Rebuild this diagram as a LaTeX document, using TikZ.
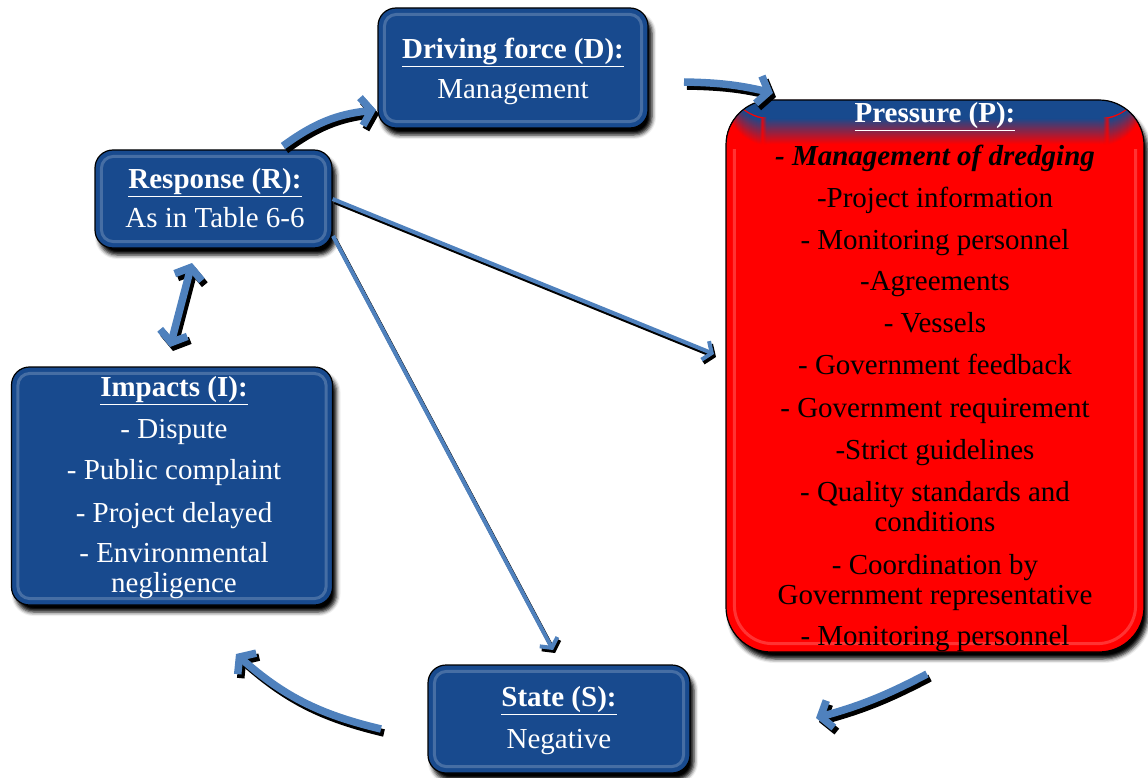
\documentclass[tikz,border=0pt]{standalone}
\usepackage{fontspec}
\setmainfont{Liberation Serif}
\usetikzlibrary{arrows.meta,shadows.blur}
\definecolor{boxblue}{RGB}{24,74,142}
\definecolor{arrblue}{RGB}{79,129,189}
\definecolor{pred}{RGB}{255,0,0}
\tikzset{
  boxbase/.style={draw=black, line width=1.2pt, inner sep=0pt,
    blur shadow={shadow xshift=4pt, shadow yshift=-7pt, shadow blur radius=4pt, shadow opacity=100}},
  bluebox/.style={boxbase, rounded corners=18pt, fill=boxblue},
  redbox/.style={boxbase, rounded corners=45pt, fill=pred,
    path picture={
      \fill[boxblue] (path picture bounding box.north west) rectangle ([yshift=-18pt]path picture bounding box.north east);
      \foreach \k in {0,...,26}{
        \pgfmathtruncatemacro\p{\k*100/26}
        \fill[pred!\p!boxblue] ([yshift=-18pt-\k*1pt]path picture bounding box.north west)
          rectangle ([yshift=-19.6pt-\k*1pt]path picture bounding box.north east);}
    }},
  bevel/.style={draw=white, opacity=0.2, line width=3pt, rounded corners=12pt},
  txt/.style={align=center, inner sep=0pt, font=\fontsize{29}{30}\selectfont},
  wtxt/.style={txt, text=white},
  arr/.style={draw=arrblue, line width=7.5pt, -{Straight Barb[length=10pt,width=28pt]}},
  arrsh/.style={arr, draw=black, transform canvas={shift={(3,4)}}},
  thin/.style={draw=arrblue, line width=4pt, -{Straight Barb[length=7pt,width=20pt]}},
  thinsh/.style={thin, draw=black, transform canvas={shift={(2,3)}}},
  dbl/.style={draw=arrblue, line width=7.5pt, {Straight Barb[length=10pt,width=28pt]}-{Straight Barb[length=10pt,width=28pt]}},
  dblsh/.style={dbl, draw=black, transform canvas={shift={(3,4)}}}
}
\begin{document}
\begin{tikzpicture}[x=1pt,y=-1pt]
\useasboundingbox (0,0) rectangle (1148,778);
% boxes
\node[bluebox, minimum width=270pt, minimum height=120pt] (D) at (513,68) {};
\node[bluebox, minimum width=237pt, minimum height=98pt] (R) at (213.5,199) {};
\node[bluebox, minimum width=321pt, minimum height=238pt] (I) at (172,486) {};
\node[redbox, minimum width=418pt, minimum height=552pt] (P) at (935,376) {};
\node[bluebox, minimum width=262pt, minimum height=108pt] (S) at (559,719) {};
% bevels
\draw[bevel] ([shift={(7,7)}]D.north west) rectangle ([shift={(-7,-7)}]D.south east);
\draw[bevel] ([shift={(7,7)}]R.north west) rectangle ([shift={(-7,-7)}]R.south east);
\draw[bevel] ([shift={(7,7)}]I.north west) rectangle ([shift={(-7,-7)}]I.south east);
\draw[bevel] ([shift={(7,7)}]S.north west) rectangle ([shift={(-7,-7)}]S.south east);
\begin{scope}
  \clip ([shift={(0,50)}]P.north west) rectangle (P.south east);
  \draw[bevel, rounded corners=38pt] ([shift={(9,9)}]P.north west) rectangle ([shift={(-9,-9)}]P.south east);
\end{scope}
% texts
\node[wtxt] (Dt) at (513,71) {\underline{\textbf{Driving force (D):}}\\[10pt] Management};
\node[wtxt] (Rt) at (215,198) {\underline{\textbf{Response (R):}}\\[9pt] As in Table 6-6};
\node[wtxt] (It) at (174,488) {\underline{\textbf{Impacts (I):}}\\[12pt]
  - Dispute\\[11pt] - Public complaint\\[13pt] - Project delayed\\[10pt] - Environmental\\ negligence};
\node[wtxt] (St) at (559,721) {\underline{\textbf{State (S):}}\\[12pt] Negative};
\node[txt] (Pt) at (935,377) {\textcolor{white}{\underline{\textbf{Pressure (P):}}}\\[13pt]
  \textbf{\textit{- Management of dredging}}\\[12pt]
  -Project information\\[12pt]
  - Monitoring personnel\\[11pt]
  -Agreements\\[12pt]
  - Vessels\\[12pt]
  - Government feedback\\[13pt]
  - Government requirement\\[12pt]
  -Strict guidelines\\[12pt]
  - Quality standards and\\
  conditions\\[13pt]
  - Coordination by\\
  Government representative\\[11pt]
  - Monitoring personnel};
% connector end points
\coordinate (r1) at (283,146);
\coordinate (d1) at (376,110);
\coordinate (d2) at (684,82);
\coordinate (p1) at (773,93);
\coordinate (p2) at (927,674);
\coordinate (s1) at (816,718);
\coordinate (s2) at (381,729);
\coordinate (i1) at (236,654);
\coordinate (r2) at (192,263);
\coordinate (i2) at (170,347);
\coordinate (p3) at (714,354);
\coordinate (s3) at (553,650);
\coordinate (r3) at (333,236);
% shadows
\draw[arrsh] (r1) to[bend left=15] (d1);
\draw[arrsh] (d2) to[bend left=6] (p1);
\draw[arrsh] (p2) to[bend left=6] (s1);
\draw[arrsh] (s2) to[bend left=14] (i1);
\draw[dblsh] (r2) -- (i2);
\draw[thinsh] (R.east) -- (p3);
\draw[thinsh] (r3) -- (s3);
% arrows
\draw[arr] (r1) to[bend left=15] (d1);
\draw[arr] (d2) to[bend left=6] (p1);
\draw[arr] (p2) to[bend left=6] (s1);
\draw[arr] (s2) to[bend left=14] (i1);
\draw[dbl] (r2) -- (i2);
\draw[thin] (R.east) -- (p3);
\draw[thin] (r3) -- (s3);
\end{tikzpicture}
\end{document}
